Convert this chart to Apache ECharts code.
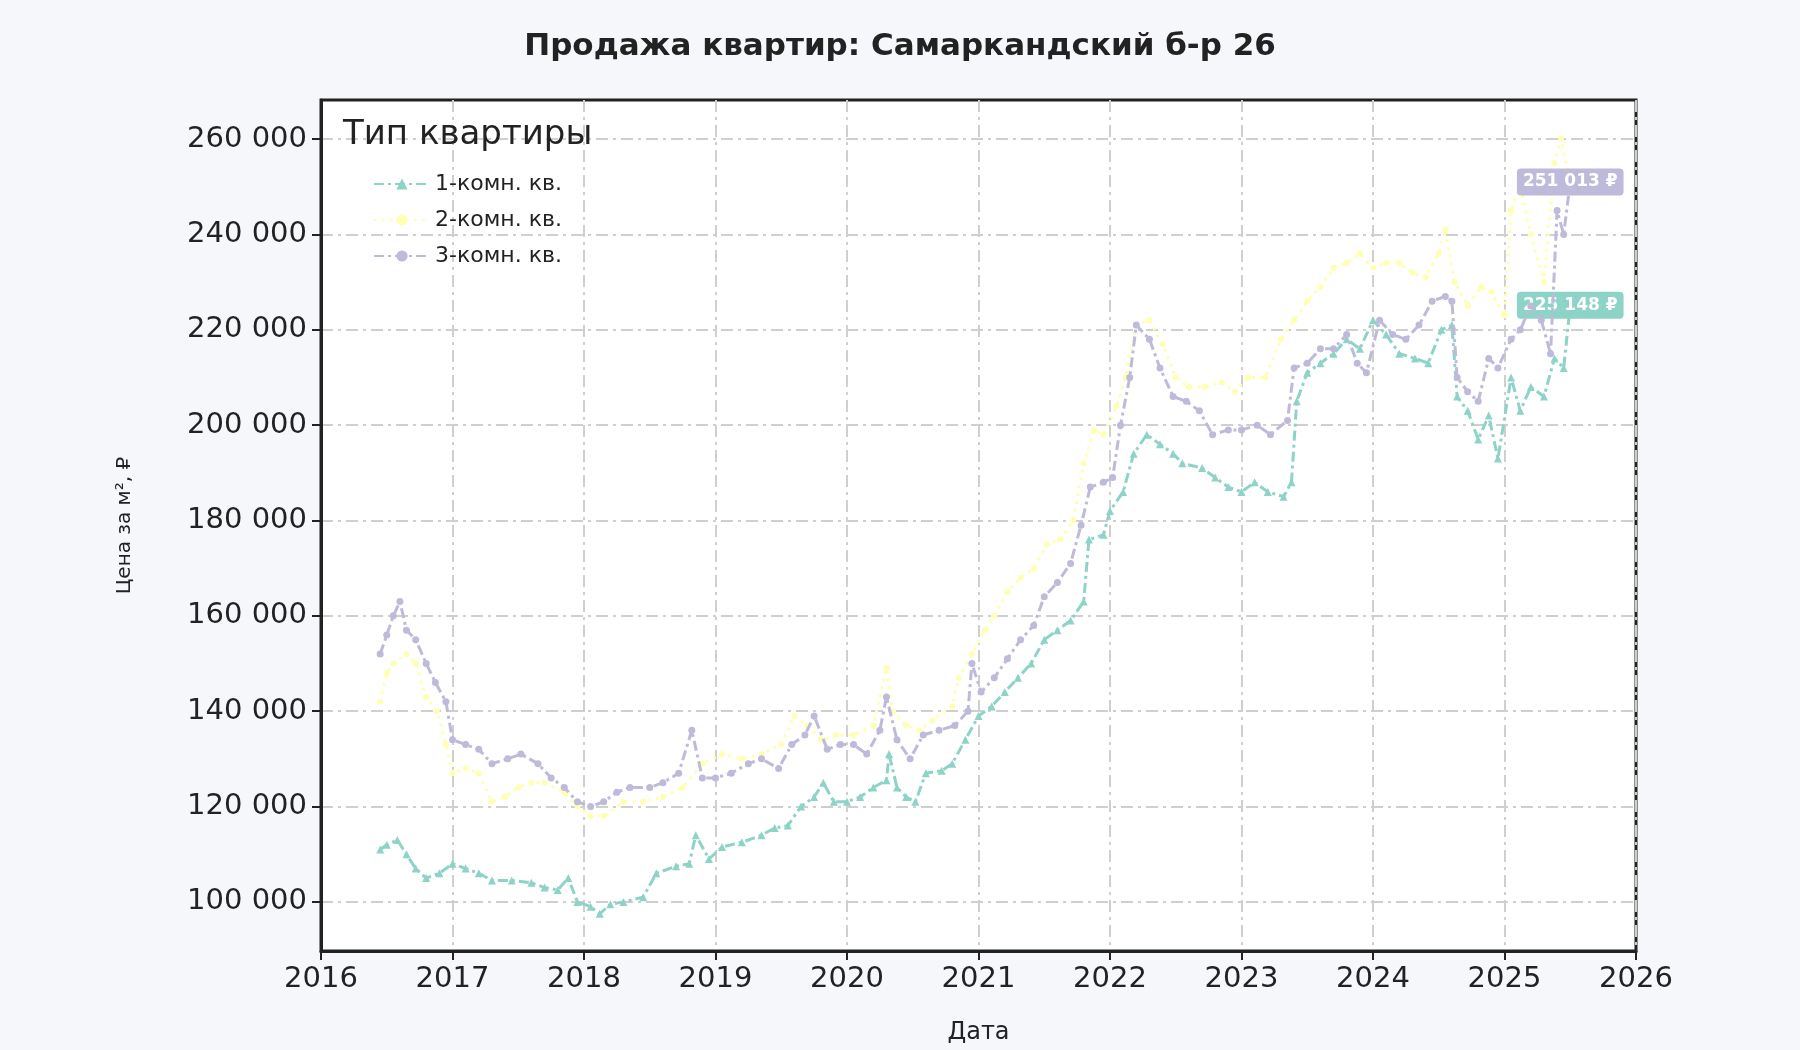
<!DOCTYPE html>
<html>
<head>
<meta charset="utf-8">
<script src="https://cdn.jsdelivr.net/npm/echarts@6/dist/echarts.min.js"></script>
<style>
  html, body { margin: 0; padding: 0; background: #f5f7fb; }
  #chart { width: 1800px; height: 1050px; }
</style>
</head>
<body>
<div id="chart"></div>
<script>
// данные: [год (дробный), цена за м²]
const room1 = [
  [2016.45, 111000], [2016.5, 112000], [2016.58, 113000], [2016.65, 110000], [2016.72, 107000], [2016.8, 105000],
  [2016.9, 106000], [2017.0, 108000], [2017.1, 107000], [2017.2, 106000], [2017.3, 104500], [2017.45, 104500],
  [2017.6, 104000], [2017.7, 103000], [2017.8, 102500], [2017.88, 105000], [2017.95, 100000], [2018.05, 99000],
  [2018.12, 97500], [2018.2, 99500], [2018.3, 100000], [2018.45, 101000], [2018.55, 106000], [2018.7, 107500],
  [2018.8, 108000], [2018.85, 114000], [2018.95, 109000], [2019.05, 111500], [2019.2, 112500], [2019.35, 114000],
  [2019.45, 115500], [2019.55, 116000], [2019.65, 120000], [2019.75, 122000], [2019.82, 125000], [2019.9, 121000],
  [2020.0, 121000], [2020.1, 122000], [2020.2, 124000], [2020.3, 125500], [2020.32, 131000], [2020.38, 124000],
  [2020.45, 122000], [2020.52, 121000], [2020.6, 127000], [2020.72, 127500], [2020.8, 129000], [2020.9, 134000],
  [2021.0, 139000], [2021.1, 141000], [2021.2, 144000], [2021.3, 147000], [2021.4, 150000], [2021.5, 155000],
  [2021.6, 157000], [2021.7, 159000], [2021.8, 163000], [2021.84, 176000], [2021.95, 177000], [2022.0, 182000],
  [2022.1, 186000], [2022.18, 194000], [2022.28, 198000], [2022.38, 196000], [2022.48, 194000], [2022.55, 192000],
  [2022.7, 191000], [2022.8, 189000], [2022.9, 187000], [2023.0, 186000], [2023.1, 188000], [2023.2, 186000],
  [2023.32, 185000], [2023.38, 188000], [2023.42, 205000], [2023.5, 211000], [2023.6, 213000], [2023.7, 215000],
  [2023.8, 218000], [2023.9, 216000], [2024.0, 222000], [2024.1, 219000], [2024.2, 215000], [2024.32, 214000],
  [2024.42, 213000], [2024.52, 220000], [2024.6, 221000], [2024.64, 206000], [2024.72, 203000], [2024.8, 197000],
  [2024.88, 202000], [2024.95, 193000], [2025.05, 210000], [2025.12, 203000], [2025.2, 208000], [2025.3, 206000],
  [2025.38, 214000], [2025.45, 212000], [2025.5, 225148]
];
const room2 = [
  [2016.45, 142000], [2016.5, 148000], [2016.55, 150000], [2016.65, 152000], [2016.72, 150000], [2016.8, 143000],
  [2016.88, 140000], [2016.95, 133000], [2017.0, 127000], [2017.1, 128000], [2017.2, 127000], [2017.3, 121000],
  [2017.4, 122000], [2017.5, 124000], [2017.6, 125000], [2017.7, 125000], [2017.85, 123000], [2017.95, 120000],
  [2018.05, 118000], [2018.15, 118000], [2018.3, 121000], [2018.45, 121000], [2018.6, 122000], [2018.75, 124000],
  [2018.9, 129000], [2019.05, 131000], [2019.2, 130000], [2019.35, 131000], [2019.5, 133000], [2019.6, 139000],
  [2019.7, 137000], [2019.8, 134000], [2019.92, 135000], [2020.05, 135000], [2020.2, 137000], [2020.3, 149000],
  [2020.35, 140000], [2020.45, 137000], [2020.55, 136000], [2020.65, 138000], [2020.8, 141000], [2020.85, 147000],
  [2020.95, 152000], [2021.05, 157000], [2021.12, 160000], [2021.22, 165000], [2021.32, 168000], [2021.42, 170000],
  [2021.52, 175000], [2021.62, 176000], [2021.72, 180000], [2021.8, 192000], [2021.88, 199000], [2021.95, 198000],
  [2022.05, 204000], [2022.12, 210000], [2022.2, 221000], [2022.3, 222000], [2022.4, 217000], [2022.5, 210000],
  [2022.6, 208000], [2022.72, 208000], [2022.85, 209000], [2022.95, 207000], [2023.05, 210000], [2023.18, 210000],
  [2023.3, 218000], [2023.4, 222000], [2023.5, 226000], [2023.6, 229000], [2023.7, 233000], [2023.8, 234000],
  [2023.9, 236000], [2024.0, 233000], [2024.1, 234000], [2024.2, 234000], [2024.3, 232000], [2024.4, 231000],
  [2024.5, 236000], [2024.55, 241000], [2024.62, 230000], [2024.72, 225000], [2024.82, 229000], [2024.9, 228000],
  [2025.0, 223000], [2025.05, 245000], [2025.12, 250000], [2025.2, 240000], [2025.3, 230000], [2025.38, 255000],
  [2025.43, 260000], [2025.5, 251000]
];
const room3 = [
  [2016.45, 152000], [2016.5, 156000], [2016.55, 160000], [2016.6, 163000], [2016.65, 157000], [2016.72, 155000],
  [2016.8, 150000], [2016.87, 146000], [2016.95, 142000], [2017.0, 134000], [2017.1, 133000], [2017.2, 132000],
  [2017.3, 129000], [2017.42, 130000], [2017.52, 131000], [2017.65, 129000], [2017.75, 126000], [2017.85, 124000],
  [2017.95, 121000], [2018.05, 120000], [2018.15, 121000], [2018.25, 123000], [2018.35, 124000], [2018.5, 124000],
  [2018.6, 125000], [2018.72, 127000], [2018.82, 136000], [2018.9, 126000], [2019.0, 126000], [2019.12, 127000],
  [2019.25, 129000], [2019.35, 130000], [2019.48, 128000], [2019.58, 133000], [2019.68, 135000], [2019.75, 139000],
  [2019.85, 132000], [2019.95, 133000], [2020.05, 133000], [2020.15, 131000], [2020.25, 136000], [2020.3, 143000],
  [2020.38, 134000], [2020.48, 130000], [2020.58, 135000], [2020.7, 136000], [2020.82, 137000], [2020.92, 140000],
  [2020.95, 150000], [2021.02, 144000], [2021.12, 147000], [2021.22, 151000], [2021.32, 155000], [2021.42, 158000],
  [2021.5, 164000], [2021.6, 167000], [2021.7, 171000], [2021.78, 179000], [2021.85, 187000], [2021.95, 188000],
  [2022.02, 189000], [2022.08, 200000], [2022.15, 210000], [2022.2, 221000], [2022.3, 218000], [2022.38, 212000],
  [2022.48, 206000], [2022.58, 205000], [2022.68, 203000], [2022.78, 198000], [2022.9, 199000], [2023.0, 199000],
  [2023.12, 200000], [2023.22, 198000], [2023.35, 201000], [2023.4, 212000], [2023.5, 213000], [2023.6, 216000],
  [2023.7, 216000], [2023.8, 219000], [2023.88, 213000], [2023.95, 211000], [2024.05, 222000], [2024.15, 219000],
  [2024.25, 218000], [2024.35, 221000], [2024.45, 226000], [2024.55, 227000], [2024.6, 226000], [2024.64, 210000],
  [2024.72, 207000], [2024.8, 205000], [2024.88, 214000], [2024.95, 212000], [2025.05, 218000], [2025.12, 220000],
  [2025.2, 225000], [2025.28, 222000], [2025.35, 215000], [2025.4, 245000], [2025.45, 240000], [2025.5, 251013]
];
const seriesNames = ['1-комн. кв.', '2-комн. кв.', '3-комн. кв.'];
const colors = ['#8dd3c7', '#ffffb3', '#bebada'];
const yTicks = [100000, 120000, 140000, 160000, 180000, 200000, 220000, 240000, 260000];

const fmt = v => String(Math.round(v)).replace(/\B(?=(\d{3})+(?!\d))/g, ' ');

function makeData(arr, color, showLabel) {
  return arr.map((p, i) => {
    const d = { value: p };
    if (showLabel && i === arr.length - 1) {
      d.label = {
        show: true, position: 'inside', formatter: fmt(p[1]) + ' ₽',
        backgroundColor: color, color: '#fff', fontWeight: 'bold', fontSize: 17,
        padding: [5, 6], borderRadius: 4, fontFamily: 'DejaVu Sans'
      };
    }
    return d;
  });
}

const font = 'DejaVu Sans';
const gridLine = { show: true, lineStyle: { color: '#cfcfcf', width: 2, type: [12, 5, 3, 5] } };
const chart = echarts.init(document.getElementById('chart'));
chart.setOption({
  backgroundColor: '#f5f7fb',
  animation: false,
  color: colors,
  title: {
    text: 'Продажа квартир: Самаркандский б-р 26', left: 'center', top: 26,
    textStyle: { fontFamily: font, fontWeight: 'bold', fontSize: 31, color: '#222' }
  },
  graphic: [{
    type: 'text', left: 343, top: 118, z: 10,
    style: { text: 'Тип квартиры', font: '34px "DejaVu Sans"', fill: '#222' }
  }],
  legend: {
    orient: 'vertical', left: 368, top: 168, itemGap: 14, itemWidth: 56, itemHeight: 14,
    data: seriesNames,
    textStyle: { fontFamily: font, fontSize: 22, color: '#222' }
  },
  grid: { left: 321, right: 164, top: 100, bottom: 97, backgroundColor: '#fff', show: true, borderColor: '#222', borderWidth: 3 },
  xAxis: {
    type: 'value', min: 2016, max: 2026, interval: 1,
    name: 'Дата', nameLocation: 'middle', nameGap: 70,
    nameTextStyle: { fontFamily: font, fontSize: 24, color: '#222' },
    axisLine: { lineStyle: { color: '#222', width: 3 } },
    axisTick: { show: true, length: 9, lineStyle: { color: '#222', width: 2 } },
    axisLabel: { fontFamily: font, fontSize: 29, color: '#222', margin: 14, formatter: v => String(v) },
    splitLine: gridLine
  },
  yAxis: {
    type: 'value', min: 89700, max: 268200,
    name: 'Цена за м², ₽', nameLocation: 'middle', nameGap: 186,
    nameTextStyle: { fontFamily: font, fontSize: 20, color: '#222' },
    axisLine: { show: true, lineStyle: { color: '#222', width: 3 } },
    axisTick: { show: true, length: 9, lineStyle: { color: '#222', width: 2 }, customValues: yTicks },
    axisLabel: { fontFamily: font, fontSize: 29, color: '#222', margin: 14, customValues: yTicks, formatter: fmt },
    splitLine: gridLine
  },
  series: [
    { name: seriesNames[0], type: 'line', data: makeData(room1, colors[0], true), symbol: 'triangle', symbolSize: 8,
      lineStyle: { width: 3, type: [10, 4, 3, 4] }, z: 3 },
    { name: seriesNames[1], type: 'line', data: makeData(room2, colors[1], false), symbol: 'circle', symbolSize: 6,
      lineStyle: { width: 3, type: [3, 5] }, z: 2 },
    { name: seriesNames[2], type: 'line', data: makeData(room3, colors[2], true), symbol: 'circle', symbolSize: 7,
      lineStyle: { width: 3, type: [10, 4, 3, 4] }, z: 4 }
  ]
});
</script>
</body>
</html>
